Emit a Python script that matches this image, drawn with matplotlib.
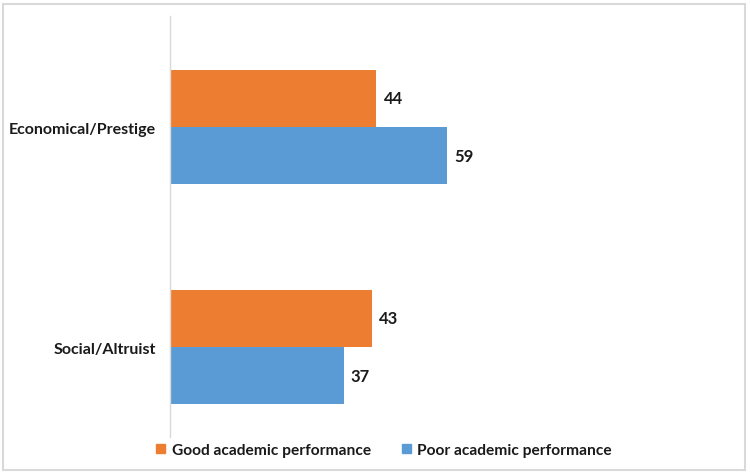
import matplotlib
matplotlib.use('Agg')
import matplotlib.pyplot as plt
from matplotlib.patches import Rectangle, Patch

plt.rcParams['font.family'] = ['Lato', 'DejaVu Sans']

categorias = ['Economical/Prestige', 'Social/Altruist']
good = [44, 43]
poor = [59, 37]
series = ['Good academic performance', 'Poor academic performance']
colores = ['#ED7D31', '#5B9BD5']

W, H = 750, 477
fig = plt.figure(figsize=(W/100, H/100), dpi=100)

# marco gris alrededor del grafico
fig.patches.append(Rectangle((3/W, 1-471/H), 742/W, 466/H, transform=fig.transFigure,
                             fill=False, edgecolor='#d9d9d9', linewidth=1.5))

ax = fig.add_axes([170/W, 1-438/H, 563/W, 421/H])
alto = 0.26
pos = list(range(len(categorias)))
ax.barh([p - alto/2 for p in pos], good, height=alto, color=colores[0], label=series[0])
ax.barh([p + alto/2 for p in pos], poor, height=alto, color=colores[1], label=series[1])

for p, v in zip(pos, good):
    ax.text(v + 1.5, p - alto/2, str(v), va='center', ha='left', fontsize=12, fontweight='bold', color='#1a1a1a')
for p, v in zip(pos, poor):
    ax.text(v + 1.5, p + alto/2, str(v), va='center', ha='left', fontsize=12, fontweight='bold', color='#1a1a1a')

ax.set_xlim(0, 120)
ax.set_ylim(1.409, -0.505)
ax.set_yticks(pos)
ax.set_yticklabels(categorias, fontsize=11.5, fontweight='bold', color='#1a1a1a')
ax.tick_params(axis='y', length=0, pad=10)
ax.set_xticks([])
for s in ['top', 'right', 'bottom']:
    ax.spines[s].set_visible(False)
ax.spines['left'].set_color('#d9d9d9')
ax.spines['left'].set_linewidth(1)

handles = [Patch(color=c) for c in colores]
leg = fig.legend(handles, series, loc='center', bbox_to_anchor=(384/W, 1-451/H), ncol=2,
                 frameon=False, handlelength=0.6, handleheight=0.6, handletextpad=0.4,
                 columnspacing=2.0, prop={'size': 11.2, 'weight': 'bold'})
for t in leg.get_texts():
    t.set_color('#1a1a1a')

fig.savefig('out.png', dpi=100)
